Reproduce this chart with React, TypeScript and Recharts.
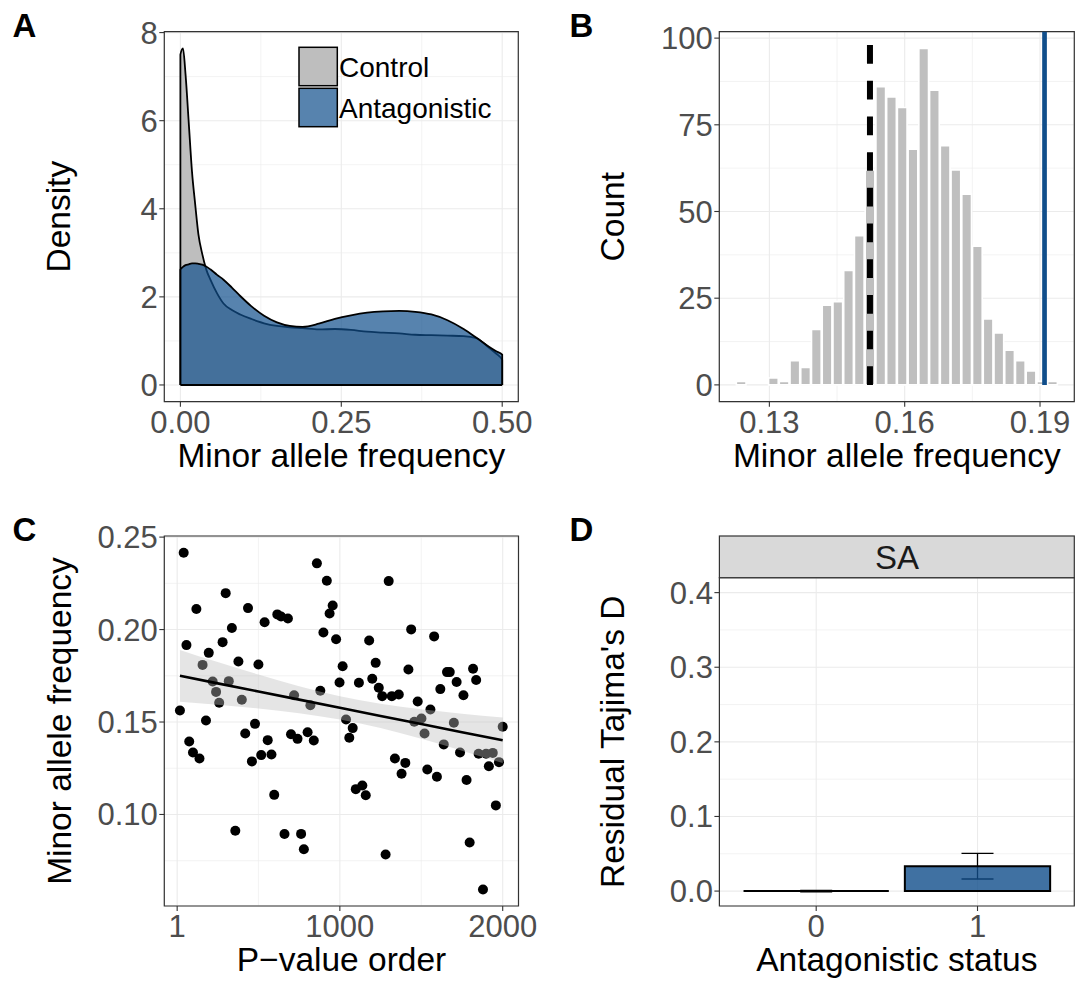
import React from "react";
import {
  ComposedChart,
  Area,
  Bar,
  Line,
  Scatter,
  XAxis,
  YAxis,
  CartesianGrid,
  ReferenceLine,
  ReferenceArea,
  ErrorBar,
} from "recharts";

const FONT = "'Liberation Sans', Arial, Helvetica, sans-serif";
const TICK_GREY = "#4D4D4D";
const GRID = "#EBEBEB";
const BORDER = "#333333";
const BLUE = "#104E8B";
const GREY_FILL = "#BEBEBE";

// A: density of minor allele frequency
const mafGrid = [
  0, 0.004, 0.008, 0.013, 0.018, 0.023, 0.028, 0.034, 0.04, 0.047, 0.057, 0.067,
  0.08, 0.093, 0.11, 0.13, 0.15, 0.17, 0.19, 0.215, 0.24, 0.265, 0.29, 0.315,
  0.34, 0.365, 0.39, 0.415, 0.44, 0.46, 0.48, 0.49, 0.5,
];
const controlDensity = [
  7.5, 7.64, 7.05, 5.95, 4.85, 4.1, 3.42, 2.97, 2.63, 2.38, 2.08, 1.85, 1.7, 1.6,
  1.5, 1.4, 1.34, 1.31, 1.29, 1.26, 1.27, 1.25, 1.21, 1.19, 1.17, 1.14, 1.13,
  1.12, 1.11, 1.06, 0.84, 0.72, 0.57,
];
const antagDensity = [
  2.62, 2.68, 2.72, 2.74, 2.76, 2.76, 2.75, 2.73, 2.69, 2.62, 2.5, 2.39, 2.21,
  2.02, 1.79, 1.57, 1.42, 1.34, 1.32, 1.39, 1.5, 1.58, 1.64, 1.67, 1.68, 1.66,
  1.6, 1.47, 1.27, 1.07, 0.86, 0.77, 0.69,
];

// B: permutation histogram
const binMid = [
  0.12365, 0.12603, 0.12841, 0.13079, 0.13317, 0.13555, 0.13793, 0.14031,
  0.14269, 0.14507, 0.14745, 0.14983, 0.15221, 0.15459, 0.15697, 0.15935,
  0.16173, 0.16411, 0.16649, 0.16887, 0.17125, 0.17363, 0.17601, 0.17839,
  0.18077, 0.18315, 0.18553, 0.18791, 0.19029, 0.19267,
];
const binCount = [
  1, 0, 0, 2, 1, 7, 5, 16, 23, 24, 33, 43, 62, 86, 83, 80, 68, 97, 85, 69, 62,
  55, 40, 19, 15, 10, 7, 4, 1, 1,
];
const nullMean = 0.1523;
const nullTop = 98;
const antagMean = 0.191;

// C: MAF against p-value order
const pOrder = [
  18, 41, 58, 75, 98, 119, 138, 157, 178, 195, 219, 240, 259, 280, 299, 318, 337,
  358, 377, 398, 419, 436, 460, 479, 500, 517, 538, 557, 580, 597, 616, 639, 660,
  681, 700, 719, 740, 762, 779, 802, 819, 840, 859, 880, 899, 920, 937, 956, 977,
  998, 1017, 1038, 1058, 1079, 1098, 1117, 1138, 1159, 1180, 1199, 1220, 1239,
  1260, 1281, 1300, 1319, 1338, 1362, 1379, 1402, 1421, 1438, 1457, 1478, 1501,
  1520, 1537, 1556, 1579, 1596, 1617, 1638, 1658, 1675, 1700, 1717, 1738, 1759,
  1778, 1797, 1818, 1837, 1852, 1879, 1898, 1915, 1939, 1958, 1977, 2000,
];
const orderMaf = [
  0.1562, 0.2415, 0.1916, 0.1395, 0.1335, 0.2111, 0.1303, 0.1809, 0.1508, 0.1874,
  0.1719, 0.1663, 0.1604, 0.1932, 0.2197, 0.1721, 0.2008, 0.0912, 0.1827, 0.162,
  0.1438, 0.2116, 0.1287, 0.149, 0.1811, 0.1321, 0.204, 0.1402, 0.1324, 0.1106,
  0.2082, 0.2071, 0.0894, 0.206, 0.1434, 0.1645, 0.1409, 0.0895, 0.0812, 0.1445,
  0.1591, 0.14, 0.2358, 0.1669, 0.1984, 0.2264, 0.2087, 0.213, 0.1948, 0.1714,
  0.1802, 0.1514, 0.1415, 0.1467, 0.1137, 0.1712, 0.1157, 0.1104, 0.1941, 0.1734,
  0.182, 0.1685, 0.164, 0.0784, 0.2262, 0.164, 0.1303, 0.1649, 0.122, 0.1279,
  0.1784, 0.2001, 0.1501, 0.1611, 0.1519, 0.1438, 0.1243, 0.1568, 0.1963, 0.1204,
  0.1678, 0.1379, 0.177, 0.177, 0.1496, 0.1716, 0.1335, 0.1645, 0.1186, 0.0848,
  0.1788, 0.1727, 0.1328, 0.0594, 0.1328, 0.1261, 0.1333, 0.1049, 0.1283, 0.1474,
];
const fitOrder = [18, 250, 500, 750, 1000, 1250, 1500, 1750, 2000];
const fitMaf = [0.175, 0.1709, 0.1665, 0.1621, 0.1577, 0.1533, 0.1489, 0.1445, 0.1401];
const fitLow = [0.161, 0.1594, 0.1573, 0.1548, 0.1514, 0.1467, 0.1409, 0.1345, 0.1278];
const fitHigh = [0.189, 0.1824, 0.1757, 0.1694, 0.164, 0.1599, 0.1569, 0.1545, 0.1524];

// D: residual Tajima's D
const statusCats = [0, 1];
const tajimaMean = [0, 0.0334];
const tajimaSe = [0.001, 0.0172];

const densityRows = [
  { maf: mafGrid[0], control: 0, antag: 0 },
  ...mafGrid.map((m, i) => ({ maf: m, control: controlDensity[i], antag: antagDensity[i] })),
  { maf: mafGrid[mafGrid.length - 1], control: 0, antag: 0 },
];
const histRows = binMid.map((m, i) => ({ mid: m, count: binCount[i] }));
const scatterRows = pOrder.map((p, i) => ({ order: p, maf: orderMaf[i] }));
const fitRows = fitOrder.map((p, i) => ({ order: p, fit: fitMaf[i], band: [fitLow[i], fitHigh[i]] }));
const tajimaRows = statusCats.map((s, i) => ({ status: s, mean: tajimaMean[i], se: tajimaSe[i] }));

// axis limits (ggplot expanded ranges)
const aX = [-0.025, 0.525];
const aY = [-0.38, 8.02];
const bX = [0.1189, 0.1976];
const bY = [-4.85, 101.85];
const cX = [-78, 2097];
const cY = [0.0505, 0.2506];
const dX = [-0.6, 1.6];
const dY = [-0.02, 0.42];

const tickStyle = { fill: TICK_GREY, fontSize: 31, fontFamily: FONT };
const tickLine = { stroke: BORDER, strokeWidth: 1.1 };
const xAxisCommon = { interval: 0 as const, tick: tickStyle, tickLine, tickSize: 5, tickMargin: 4, axisLine: false, height: 60 };
const yAxisCommon = { interval: 0 as const, tick: tickStyle, tickLine, tickSize: 5, tickMargin: 1.5, axisLine: false };

const scaleOf = (axis: any) => (v: number) => {
  const s = axis?.scale;
  if (typeof s === "function") return s(v);
  if (s && typeof s.map === "function") return s.map(v);
  return NaN;
};

function minorGrid(xs: number[], ys: number[]) {
  return (
    <CartesianGrid
      stroke={GRID}
      strokeWidth={0.6}
      horizontal={ys.length > 0}
      vertical={xs.length > 0}
      horizontalCoordinatesGenerator={({ yAxis }: any) => ys.map(scaleOf(yAxis))}
      verticalCoordinatesGenerator={({ xAxis }: any) => xs.map(scaleOf(xAxis))}
    />
  );
}

function frame(xd: number[], yd: number[]) {
  return (
    <ReferenceArea x1={xd[0]} x2={xd[1]} y1={yd[0]} y2={yd[1]} fill="none" fillOpacity={0}
      stroke={BORDER} strokeWidth={1.2} ifOverflow="visible" />
  );
}

function OutlinedBar(props: any) {
  const { x, y, width, height } = props;
  if (x == null || y == null) return null;
  return (
    <path d={`M${x},${y}h${width}v${height}h${-width}Z`} fill={BLUE} fillOpacity={0.8} stroke="#000" strokeWidth={2} />
  );
}

function NoBar() {
  return <g />;
}

function Dot(props: any) {
  return <circle cx={props.cx} cy={props.cy} r={5} fill="#000" />;
}

function PanelA() {
  return (
    <ComposedChart width={540} height={490} data={densityRows} margin={{ top: 31.7, right: 21.7, bottom: 28.3, left: 0 }}>
      {minorGrid([0.125, 0.375], [1, 3, 5, 7])}
      <CartesianGrid stroke={GRID} strokeWidth={1.1} />
      <XAxis type="number" dataKey="maf" domain={aX} allowDataOverflow ticks={[0, 0.25, 0.5]}
        tickFormatter={(v: number) => v.toFixed(2)} {...xAxisCommon} />
      <YAxis type="number" domain={aY} allowDataOverflow ticks={[0, 2, 4, 6, 8]} {...yAxisCommon} width={164.3} />
      <Area type="monotone" dataKey="control" baseValue={0} fill={GREY_FILL} fillOpacity={1} stroke="#000"
        strokeWidth={1.8} dot={false} activeDot={false} isAnimationActive={false} />
      <Area type="monotone" dataKey="antag" baseValue={0} fill={BLUE} fillOpacity={0.7} stroke="#000"
        strokeWidth={1.8} dot={false} activeDot={false} isAnimationActive={false} />
      <ReferenceLine segment={[{ x: mafGrid[0], y: 0 }, { x: mafGrid[mafGrid.length - 1], y: 0 }]} stroke="#000" strokeWidth={2} />
      {frame(aX, aY)}
    </ComposedChart>
  );
}

function PanelB() {
  return (
    <ComposedChart width={543} height={490} data={histRows} margin={{ top: 31.7, right: 8.7, bottom: 28.3, left: 0 }}>
      {minorGrid([0.145, 0.175], [12.5, 37.5, 62.5, 87.5])}
      <CartesianGrid stroke={GRID} strokeWidth={1.1} />
      <XAxis type="number" dataKey="mid" domain={bX} allowDataOverflow ticks={[0.13, 0.16, 0.19]}
        tickFormatter={(v: number) => v.toFixed(2)} {...xAxisCommon} />
      <YAxis type="number" domain={bY} allowDataOverflow ticks={[0, 25, 50, 75, 100]} {...yAxisCommon} width={179.3} />
      <Bar dataKey="count" fill="#BFBFBF" stroke="#FFFFFF" strokeWidth={1.6} barSize={10.74} isAnimationActive={false} />
      <ReferenceLine segment={[{ x: nullMean, y: nullTop }, { x: nullMean, y: 0 }]} stroke="#000" strokeWidth={6} strokeDasharray="18.7 17" />
      <ReferenceLine segment={[{ x: antagMean, y: 0 }, { x: antagMean, y: bY[1] }]} stroke={BLUE} strokeWidth={4.7} />
      {frame(bX, bY)}
    </ComposedChart>
  );
}

function PanelC() {
  return (
    <div style={{ position: "relative", width: 540, height: 491 }}>
      <div style={{ position: "absolute", left: 0, top: 0 }}>
        <ComposedChart width={540} height={491} data={fitRows} margin={{ top: 46, right: 21.5, bottom: 15, left: 0 }}>
          {minorGrid([500, 1500], [0.075, 0.125, 0.175, 0.225])}
          <CartesianGrid stroke={GRID} strokeWidth={1.1} />
          <XAxis type="number" dataKey="order" domain={cX} allowDataOverflow ticks={[1, 1000, 2000]} {...xAxisCommon} />
          <YAxis type="number" dataKey="maf" domain={cY} allowDataOverflow ticks={[0.1, 0.15, 0.2, 0.25]}
            tickFormatter={(v: number) => v.toFixed(2)} {...yAxisCommon} width={164.3} />
          <Scatter data={scatterRows} dataKey="maf" shape={Dot} isAnimationActive={false} />
        </ComposedChart>
      </div>
      <div style={{ position: "absolute", left: 0, top: 0 }}>
        <ComposedChart width={540} height={491} data={fitRows} margin={{ top: 46, right: 21.5, bottom: 75, left: 164.3 }}>
          <XAxis type="number" dataKey="order" domain={cX} allowDataOverflow hide />
          <YAxis type="number" domain={cY} allowDataOverflow hide />
          <Area type="monotone" dataKey="band" fill={GREY_FILL} fillOpacity={0.4} stroke="none" dot={false}
            activeDot={false} isAnimationActive={false} />
          <Line type="linear" dataKey="fit" stroke="#000" strokeWidth={2.6} dot={false} activeDot={false} isAnimationActive={false} />
          {frame(cX, cY)}
        </ComposedChart>
      </div>
    </div>
  );
}

function PanelD() {
  return (
    <div style={{ position: "relative", width: 543, height: 491 }}>
      <div style={{ position: "absolute", left: 0, top: 0 }}>
        <ComposedChart width={543} height={491} data={tajimaRows} margin={{ top: 87.7, right: 8.7, bottom: 15, left: 0 }}>
          {minorGrid([], [0.05, 0.15, 0.25, 0.35])}
          <CartesianGrid stroke={GRID} strokeWidth={1.1} />
          <XAxis type="number" dataKey="status" domain={dX} allowDataOverflow ticks={statusCats} {...xAxisCommon} />
          <YAxis type="number" domain={dY} allowDataOverflow ticks={[0, 0.1, 0.2, 0.3, 0.4]}
            tickFormatter={(v: number) => v.toFixed(1)} {...yAxisCommon} width={179.4} />
          <Bar dataKey="mean" barSize={145.3} shape={NoBar} isAnimationActive={false}>
            <ErrorBar dataKey="se" width={16} stroke="#000" strokeWidth={1.3} direction="y" isAnimationActive={false} />
          </Bar>
        </ComposedChart>
      </div>
      <div style={{ position: "absolute", left: 0, top: 0 }}>
        <ComposedChart width={543} height={491} data={tajimaRows} margin={{ top: 87.7, right: 8.7, bottom: 75, left: 179.4 }}>
          <XAxis type="number" dataKey="status" domain={dX} allowDataOverflow ticks={statusCats} hide />
          <YAxis type="number" domain={dY} allowDataOverflow hide />
          <Bar dataKey="mean" barSize={145.3} shape={OutlinedBar} isAnimationActive={false} />
          {frame(dX, dY)}
        </ComposedChart>
      </div>
    </div>
  );
}

function Overlay() {
  const title = { fontFamily: FONT, fontSize: 33.5, fill: "#000" };
  const letter = { fontFamily: FONT, fontSize: 33, fontWeight: 700, fill: "#000" };
  return (
    <svg width={1083} height={981} style={{ position: "absolute", left: 0, top: 0, pointerEvents: "none" }}>
      <text x={12.4} y={36.7} {...letter}>A</text>
      <text x={569.4} y={36.7} {...letter}>B</text>
      <text x={12.4} y={541.1} {...letter}>C</text>
      <text x={569.4} y={541.1} {...letter}>D</text>

      <text x={341.3} y={466.5} textAnchor="middle" {...title}>Minor allele frequency</text>
      <text x={896.8} y={466.5} textAnchor="middle" {...title}>Minor allele frequency</text>
      <text x={341.5} y={971} textAnchor="middle" {...title}>P−value order</text>
      <text x={896.8} y={971} textAnchor="middle" {...title}>Antagonistic status</text>

      <text x={70.5} y={216.7} textAnchor="middle" transform="rotate(-90 70.5 216.7)" {...title}>Density</text>
      <text x={624.5} y={216.7} textAnchor="middle" transform="rotate(-90 624.5 216.7)" {...title}>Count</text>
      <text x={70.5} y={721} textAnchor="middle" transform="rotate(-90 70.5 721)" {...title}>Minor allele frequency</text>
      <text x={624.5} y={741.8} textAnchor="middle" transform="rotate(-90 624.5 741.8)" {...title}>Residual Tajima's D</text>

      <rect x={299} y={47.3} width={38.3} height={38.4} fill={GREY_FILL} stroke="#000" strokeWidth={1.5} />
      <rect x={299} y={88.3} width={38.3} height={38.4} fill="#fff" stroke="none" />
      <rect x={299} y={88.3} width={38.3} height={38.4} fill={BLUE} fillOpacity={0.7} stroke="#000" strokeWidth={1.5} />
      <text x={339} y={77.3} fontFamily={FONT} fontSize={28} fill="#000">Control</text>
      <text x={339} y={117.7} fontFamily={FONT} fontSize={28} fill="#000">Antagonistic</text>

      <rect x={719.4} y={536} width={354.9} height={41.7} fill="#D9D9D9" stroke={BORDER} strokeWidth={1.2} />
      <text x={896.9} y={569.4} textAnchor="middle" fontFamily={FONT} fontSize={33} fill="#1A1A1A">SA</text>
    </svg>
  );
}

export default function App() {
  return (
    <div style={{ position: "absolute", left: 0, top: 0, width: 1083, height: 981, background: "#fff", fontFamily: FONT, overflow: "hidden" }}>
      <style>{"html,body{margin:0;overflow:hidden;}"}</style>
      <div style={{ position: "absolute", left: 0, top: 0 }}><PanelA /></div>
      <div style={{ position: "absolute", left: 540, top: 0 }}><PanelB /></div>
      <div style={{ position: "absolute", left: 0, top: 490 }}><PanelC /></div>
      <div style={{ position: "absolute", left: 540, top: 490 }}><PanelD /></div>
      <Overlay />
    </div>
  );
}
